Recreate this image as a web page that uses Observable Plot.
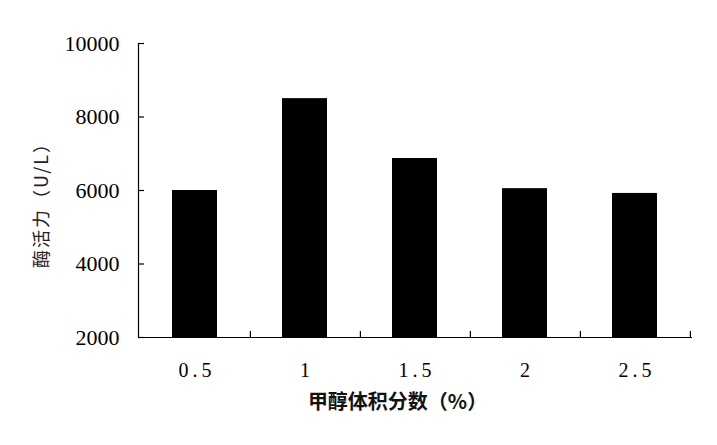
<!DOCTYPE html>
<html><head><meta charset="utf-8">
<script src="https://cdn.jsdelivr.net/npm/d3@7"></script>
<script src="https://cdn.jsdelivr.net/npm/@observablehq/plot@0.6"></script>
<style>
body{margin:0;background:#fff}
</style>
</head><body><div id="chart"></div>
<script>
const categories = ["0.5", "1", "1.5", "2", "2.5"];
const activity = [6000, 8500, 6870, 6050, 5920];
const yTicks = [2000, 4000, 6000, 8000, 10000];
const xTitle = "甲醇体积分数（%）";
const yTitle = "酶活力（U/L）";

const W = 717, H = 445, mL = 138, mR = 25, mT = 43, mB = 108;
const frameW = W - mL - mR, frameH = H - mT - mB, step = frameW / categories.length;
const data = categories.map((c, i) => ({cat: c, value: activity[i]}));
const yMin = yTicks[0], yMax = yTicks[yTicks.length - 1];
const serif = "'Liberation Serif', 'DejaVu Serif', serif";
const cjk = "'Noto Sans CJK SC', 'Noto Sans', sans-serif";

const chart = Plot.plot({
  width: W, height: H,
  marginLeft: mL, marginRight: mR, marginTop: mT, marginBottom: mB,
  style: {fontFamily: serif, background: "#fff", color: "#000"},
  x: {type: "band", domain: categories, paddingInner: 0.587, paddingOuter: 0.2935, axis: null},
  y: {domain: [yMin, yMax], axis: null},
  marks: [
    Plot.barY(data, {x: "cat", y1: yMin, y2: "value", fill: "#000"}),
    Plot.ruleY(yTicks, {y: d => d, insetRight: frameW - 6, stroke: "#000", strokeWidth: 1.2}),
    Plot.ruleX(categories, {x: d => d, dx: step / 2, y1: yMax, y2: yMin, insetTop: frameH - 6, stroke: "#000", strokeWidth: 1.2}),
    Plot.ruleY([yMin], {stroke: "#000", strokeWidth: 1.2}),
    Plot.frame({anchor: "left", stroke: "#000", strokeWidth: 1.2}),
    Plot.axisY({ticks: yTicks, tickSize: 0, tickPadding: 19, fontSize: 22, label: null, tickFormat: d => String(d)}),
    Plot.text(categories, {x: d => d, text: d => d, frameAnchor: "bottom", lineAnchor: "middle", dy: 33, dx: 2, fontSize: 20, fontFamily: serif}),
    Plot.text([xTitle], {text: d => d, frameAnchor: "bottom", lineAnchor: "middle", textAnchor: "middle", dy: 65, dx: -18, fontSize: 20, fontWeight: "bold", fontFamily: cjk, fill: "#111"}),
    Plot.text([yTitle], {text: d => d, frameAnchor: "left", textAnchor: "middle", lineAnchor: "middle", rotate: -90, dx: -96, dy: 10, fontSize: 18, fontFamily: cjk, fill: "#222"})
  ]
});
chart.querySelectorAll("text").forEach(t => {
  const s = t.textContent;
  if (categories.includes(s)) t.style.letterSpacing = "4px";
  if (s === yTitle) t.style.letterSpacing = "2px";
});
document.getElementById("chart").appendChild(chart);
</script>
</body></html>
